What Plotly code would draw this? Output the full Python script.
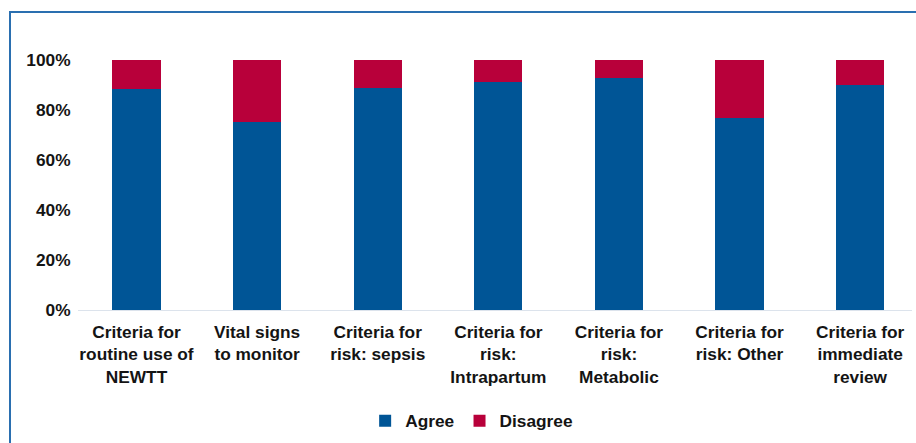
import plotly.graph_objects as go

categories = [
    "Criteria for<br>routine use of<br>NEWTT",
    "Vital signs<br>to monitor",
    "Criteria for<br>risk: sepsis",
    "Criteria for<br>risk:<br>Intrapartum",
    "Criteria for<br>risk:<br>Metabolic",
    "Criteria for<br>risk: Other",
    "Criteria for<br>immediate<br>review",
]
agree = [0.884, 0.753, 0.889, 0.913, 0.927, 0.767, 0.900]
disagree = [round(1 - a, 3) for a in agree]

BLUE = "#005596"
RED = "#B8003A"
FONT = dict(family="Liberation Sans, Arial, sans-serif", size=17.3, color="#141414", weight="bold")

fig = go.Figure()
fig.add_trace(go.Bar(name="Agree", x=categories, y=agree, marker=dict(color=BLUE, line=dict(width=0)), width=0.4))
fig.add_trace(go.Bar(name="Disagree", x=categories, y=disagree, marker=dict(color=RED, line=dict(width=0)), width=0.4))

fig.update_layout(
    barmode="stack",
    width=916, height=443,
    margin=dict(l=78, r=4, t=60, b=133, autoexpand=False),
    paper_bgcolor="white", plot_bgcolor="white",
    font=FONT,
    showlegend=True,
    legend=dict(orientation="h", x=0.472, xanchor="center", y=-0.444, yanchor="middle",
                font=FONT, itemwidth=30, traceorder="normal"),
    xaxis=dict(range=[-0.485, 6.43], showgrid=False, showline=True, linecolor="#DCE3EC", linewidth=1,
               ticks="outside", ticklen=6, tickcolor="rgba(0,0,0,0)", tickfont=FONT, fixedrange=True),
    yaxis=dict(range=[0, 1], tickformat=".0%", dtick=0.2, showgrid=False, showline=False, zeroline=False,
               ticks="outside", ticklen=3, tickcolor="rgba(0,0,0,0)", tickfont=FONT, fixedrange=True),
    shapes=[dict(type="rect", xref="paper", yref="paper",
                 x0=(10 - 78) / 834, x1=(930 - 78) / 834,
                 y0=(310 - 460) / 250, y1=(310 - 12) / 250,
                 line=dict(color="#2A6FB0", width=2), fillcolor="rgba(0,0,0,0)", layer="below")],
)

fig.write_html("out.html")
